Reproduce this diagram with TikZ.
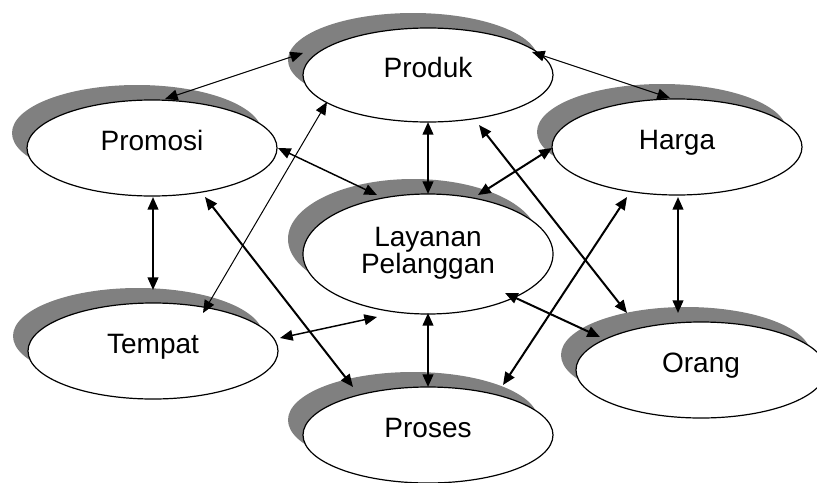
\documentclass[tikz,border=0pt]{standalone}
\usepackage{fontspec}
\setmainfont{Liberation Sans}
\usetikzlibrary{shapes.geometric,arrows.meta,calc}
\definecolor{shadowgray}{RGB}{128,128,128}
\begin{document}
\begin{tikzpicture}[x=0.75pt,y=-0.75pt,
  oval/.style={ellipse,draw=black,line width=0.9pt,fill=white,minimum width=187.5pt,minimum height=72pt,inner sep=0pt},
  shadeoval/.style={ellipse,fill=shadowgray,minimum width=187.5pt,minimum height=72pt,inner sep=0pt},
  lbl/.style={font=\fontsize{21}{19.5}\selectfont,anchor=base,inner sep=0pt},
  link/.style={{Triangle[length=9.5pt,width=8pt]}-{Triangle[length=9.5pt,width=8pt]},line width=1.5pt},
  thinlink/.style={link,line width=0.75pt},
  midlink/.style={link,line width=1.1pt}]
\useasboundingbox (0,0) rectangle (817,482);
\clip (0,0) rectangle (817,482);
% shadows
\node[shadeoval,minimum height=70.5pt] (prodS) at (413,60) {};
\node[shadeoval] (promS) at (137,133) {};
\node[shadeoval] (hargaS) at (662,132) {};
\node[shadeoval,minimum height=90pt] (layS) at (413,239) {};
\node[shadeoval] (tempS) at (138,336) {};
\node[shadeoval] (orangS) at (686,355) {};
\node[shadeoval] (prosesS) at (413,420) {};
% ellipses
\node[oval,minimum height=70.5pt] (prod) at (428,75) {};
\node[oval] (prom) at (152,148) {};
\node[oval] (harga) at (677,147) {};
\node[oval,minimum height=90pt] (lay) at (428,254) {};
\node[oval] (temp) at (153,351) {};
\node[oval] (orang) at (701,370) {};
\node[oval] (proses) at (428,435) {};
% labels
\node[lbl] (prodT) at (428,77.5) {Produk};
\node[lbl] (promT) at (152,150.5) {Promosi};
\node[lbl] (hargaT) at (677,149.5) {Harga};
\node[font=\fontsize{21}{19.5}\selectfont,align=center,inner sep=0pt] (layT) at (428,253) {Layanan\\Pelanggan};
\node[lbl] (tempT) at (153,353.5) {Tempat};
\node[lbl] (orangT) at (701,372.5) {Orang};
\node[lbl] (prosesT) at (428,437.5) {Proses};
% connectors
\draw[thinlink] ($(prom)+(13,-49)$) -- ($(prod)+(-125,-22)$);
\draw[thinlink] ($(prod)+(104,-23)$) -- ($(harga)+(-7,-49)$);
\draw[midlink] ($(prom)+(126,0)$) -- ($(lay)+(-51,-59)$);
\draw[link] ($(prod)+(0,47)$) -- ($(lay)+(0,-60)$);
\draw[link] ($(harga)+(-125,1)$) -- ($(lay)+(50,-59)$);
\draw[link] ($(prom)+(1,49)$) -- ($(temp)+(0,-61)$);
\draw[thinlink] ($(temp)+(50,-38)$) -- ($(prod)+(-101,27)$);
\draw[link] ($(prom)+(53,49)$) -- ($(proses)+(-75,-48)$);
\draw[link] ($(prod)+(51,50)$) -- ($(orang)+(-74,-57)$);
\draw[link] ($(harga)+(1,50)$) -- ($(orang)+(-23,-57)$);
\draw[link] ($(harga)+(-50,50)$) -- ($(proses)+(75,-50)$);
\draw[link] ($(lay)+(77,39)$) -- ($(orang)+(-101,-33)$);
\draw[midlink] ($(temp)+(127,-13)$) -- ($(lay)+(-51,63)$);
\draw[link] ($(lay)+(0,59)$) -- ($(proses)+(0,-48)$);
\end{tikzpicture}
\end{document}
